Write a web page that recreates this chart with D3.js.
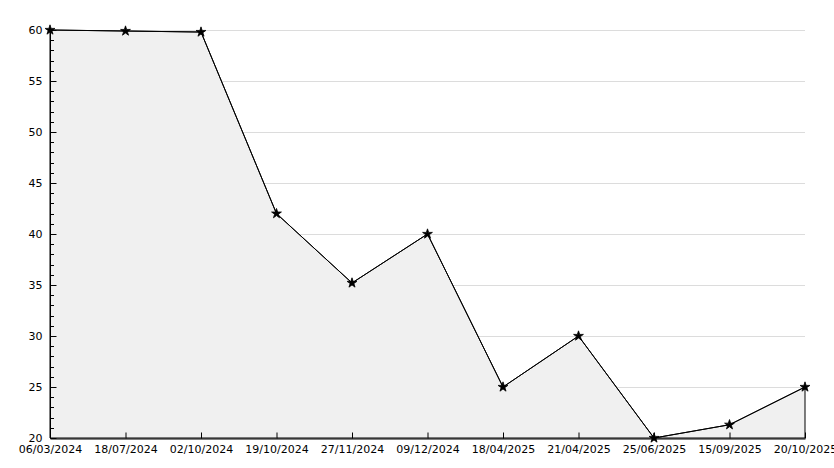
<!DOCTYPE html>
<html>
<head>
<meta charset="utf-8">
<script src="https://cdn.jsdelivr.net/npm/d3@7"></script>
<style>
  body { margin: 0; background: #fff; }
  svg { display: block; }
  text { font-family: "DejaVu Sans", sans-serif; font-size: 10px; fill: #000; }
</style>
</head>
<body>
<svg id="chart" width="834" height="468"></svg>
<script>
// chart data
var dates = ['06/03/2024', '18/07/2024', '02/10/2024', '19/10/2024', '27/11/2024', '09/12/2024',
             '18/04/2025', '21/04/2025', '25/06/2025', '15/09/2025', '20/10/2025'];
var values = [60, 59.9, 59.8, 42, 35.2, 40, 25, 30, 20, 21.3, 25];
var yTicks = [20, 25, 30, 35, 40, 45, 50, 55, 60];

var width = 834, height = 468;
var margin = {top: 30, right: 29, bottom: 30, left: 50};

var svg = d3.select('#chart');

var x = d3.scalePoint()
  .domain(dates)
  .range([margin.left, width - margin.right]);

var y = d3.scaleLinear()
  .domain([20, 60])
  .range([height - margin.bottom, margin.top]);

// grid lines
svg.append('g')
  .selectAll('line')
  .data(yTicks)
  .enter().append('line')
    .attr('x1', margin.left)
    .attr('x2', width - margin.right)
    .attr('y1', function(d) { return Math.round(y(d)) + 0.5; })
    .attr('y2', function(d) { return Math.round(y(d)) + 0.5; })
    .style('stroke', '#dcdcdc');

var pts = dates.map(function(d, i) { return [x(d), y(values[i])]; });

// area under the line
var area = d3.area()
  .x(function(d) { return d[0]; })
  .y0(y(20))
  .y1(function(d) { return d[1]; });

svg.append('path')
  .datum(pts)
  .attr('d', area)
  .style('fill', '#f0f0f0')
  .style('stroke', '#000')
  .style('stroke-width', 1);

// minor ticks on the y axis
var minor = d3.range(20, 60, 1).filter(function(v) { return v % 5 !== 0; });
svg.append('g')
  .selectAll('line')
  .data(minor)
  .enter().append('line')
    .attr('x1', margin.left)
    .attr('x2', margin.left + 4)
    .attr('y1', function(d) { return Math.round(y(d)) + 0.5; })
    .attr('y2', function(d) { return Math.round(y(d)) + 0.5; })
    .style('stroke', '#000');

// y axis
var yAxis = svg.append('g')
  .attr('transform', 'translate(' + (margin.left + 0.5) + ',0)')
  .call(d3.axisRight(y).tickValues(yTicks).tickSize(6).tickFormat(d3.format('d')));
yAxis.select('.domain').attr('d', 'M0,' + y(60) + 'V' + y(20)).style('stroke', '#000');
yAxis.selectAll('.tick text')
  .attr('x', -8)
  .attr('text-anchor', 'end')
  .attr('dy', '0.35em')
  .style('font-size', '11px');

// x axis
var xAxis = svg.append('g')
  .attr('transform', 'translate(0,' + (y(20) + 0.5) + ')')
  .call(d3.axisTop(x).tickSize(6).tickSizeOuter(0));
xAxis.select('.domain').style('stroke', '#000');
xAxis.selectAll('.tick text')
  .attr('y', 14)
  .attr('dy', 0)
  .style('font-size', '11px');

// line
svg.append('path')
  .datum(pts)
  .attr('d', d3.line())
  .style('fill', 'none')
  .style('stroke', '#000')
  .style('stroke-width', 1);

// markers
svg.append('g')
  .selectAll('path')
  .data(pts)
  .enter().append('path')
    .attr('transform', function(d) { return 'translate(' + d[0] + ',' + d[1] + ')'; })
    .attr('d', d3.symbol().type(d3.symbolStar).size(30))
    .style('fill', '#000')
    .style('stroke', '#000')
    .style('stroke-width', 0.8);
</script>
</body>
</html>
